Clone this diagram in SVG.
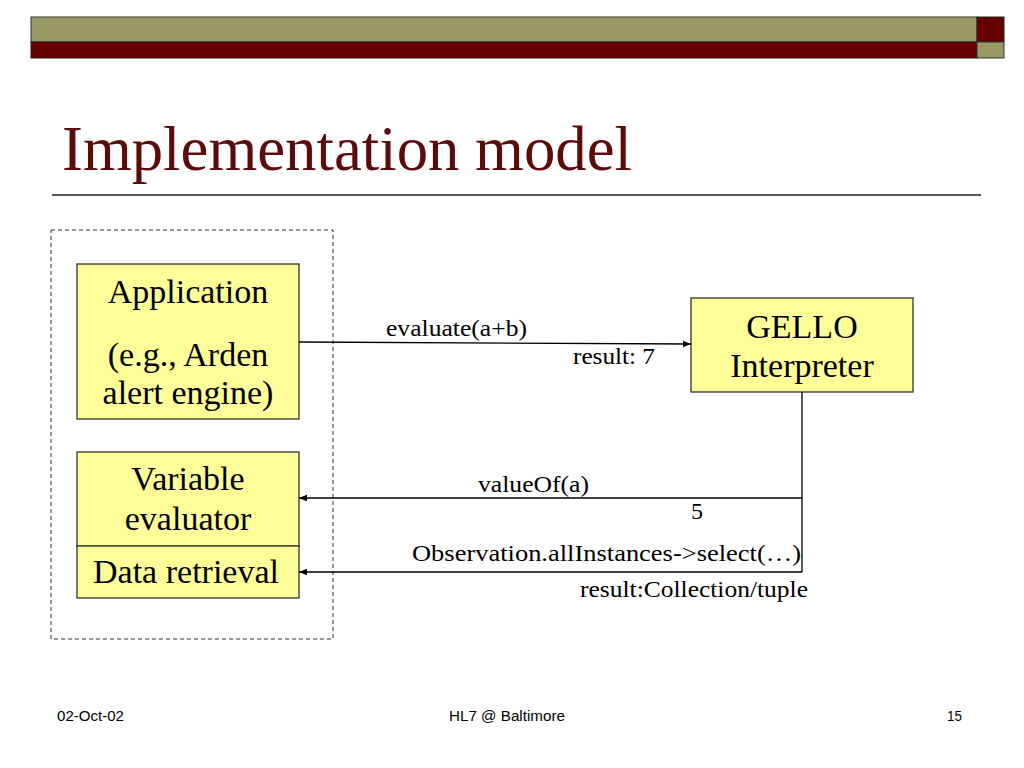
<svg xmlns="http://www.w3.org/2000/svg" width="1024" height="768" viewBox="0 0 1024 768">
<style>
.node{fill:#FFFF99;stroke:#333;stroke-width:1.3}
.nt{font-family:"Liberation Serif","Times New Roman",serif;font-size:34px;fill:#000;text-anchor:middle}
.lbl{font-family:"Liberation Serif","Times New Roman",serif;font-size:24px;fill:#000}
.ft{font-family:"Liberation Sans",Arial,sans-serif;font-size:14px;fill:#000}
.conn{stroke:#000;stroke-width:1.3;fill:none}
</style>
<defs>
<marker id="ah" viewBox="0 0 10 10" refX="10" refY="5" markerWidth="8" markerHeight="8" markerUnits="userSpaceOnUse" orient="auto">
<path d="M0,1 L10,5 L0,9 z" fill="#000"/>
</marker>
</defs>
<rect width="1024" height="768" fill="#fff"/>
<g id="header">
<rect x="31" y="17" width="946" height="25" fill="#999966" stroke="#333" stroke-width="1"/>
<rect x="31" y="42" width="946" height="16" fill="#660000" stroke="#222" stroke-width="1"/>
<rect x="977" y="17" width="27" height="25" fill="#660000" stroke="#222" stroke-width="1"/>
<rect x="977" y="42" width="27" height="16" fill="#999966" stroke="#333" stroke-width="1"/>
</g>
<text id="title" x="62" y="170" font-family="'Liberation Serif','Times New Roman',serif" font-size="64" fill="#5C0A0A" textLength="570" lengthAdjust="spacingAndGlyphs">Implementation model</text>
<line x1="52" y1="195" x2="981" y2="195" stroke="#222" stroke-width="1.5"/>
<rect id="boundary" x="51" y="230" width="282" height="409" fill="none" stroke="#333" stroke-width="1" stroke-dasharray="4,3"/>
<g id="application">
<rect class="node" x="77" y="264" width="222" height="155"/>
<text class="nt" x="188" y="303">Application</text>
<text class="nt" x="188" y="366">(e.g., Arden</text>
<text class="nt" x="188" y="404">alert engine)</text>
</g>
<g id="variable-evaluator">
<rect class="node" x="77" y="452" width="222" height="94"/>
<text class="nt" x="188" y="490">Variable</text>
<text class="nt" x="188" y="530">evaluator</text>
</g>
<g id="data-retrieval">
<rect class="node" x="77" y="546" width="222" height="52"/>
<text class="nt" x="186" y="583">Data retrieval</text>
</g>
<g id="gello">
<rect class="node" x="691" y="298" width="222" height="94"/>
<text class="nt" x="802" y="338">GELLO</text>
<text class="nt" x="802" y="377">Interpreter</text>
</g>
<g id="connectors">
<line class="conn" x1="299" y1="342" x2="691" y2="344" marker-end="url(#ah)"/>
<line class="conn" x1="802" y1="392" x2="802" y2="572"/>
<line class="conn" x1="802" y1="498" x2="299" y2="498" marker-end="url(#ah)"/>
<line class="conn" x1="802" y1="572" x2="299" y2="572" marker-end="url(#ah)"/>
</g>
<g id="labels">
<text class="lbl" x="386" y="336" textLength="141" lengthAdjust="spacingAndGlyphs">evaluate(a+b)</text>
<text class="lbl" x="573" y="364" textLength="82" lengthAdjust="spacingAndGlyphs">result: 7</text>
<text class="lbl" x="478" y="492" textLength="111" lengthAdjust="spacingAndGlyphs">valueOf(a)</text>
<text class="lbl" x="691" y="519">5</text>
<text class="lbl" x="412" y="561" textLength="389" lengthAdjust="spacingAndGlyphs">Observation.allInstances-&gt;select(…)</text>
<text class="lbl" x="580" y="597" textLength="228" lengthAdjust="spacingAndGlyphs">result:Collection/tuple</text>
</g>
<g id="footer">
<text class="ft" x="57" y="721" textLength="67" lengthAdjust="spacingAndGlyphs">02-Oct-02</text>
<text class="ft" x="449" y="721" textLength="116" lengthAdjust="spacingAndGlyphs">HL7 @ Baltimore</text>
<text class="ft" x="947" y="721" textLength="15" lengthAdjust="spacingAndGlyphs">15</text>
</g>
</svg>
